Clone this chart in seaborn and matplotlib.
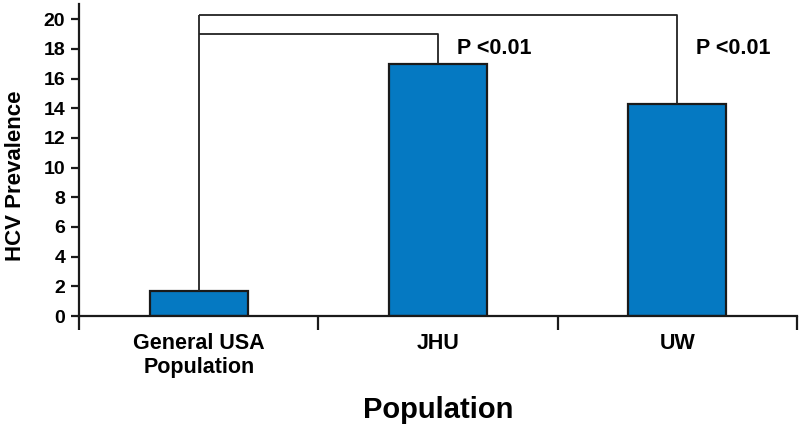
import matplotlib
matplotlib.use("Agg")
import matplotlib.pyplot as plt
import seaborn as sns
import pandas as pd

# data
groups = ["General USA\nPopulation", "JHU", "UW"]
prevalence = [1.7, 17.0, 14.3]
p_labels = ["P <0.01", "P <0.01"]

sns.set_style("ticks")
plt.rcParams['font.family'] = ['Liberation Sans', 'DejaVu Sans']
plt.rcParams['font.weight'] = 'bold'
for k in ['text.color', 'axes.labelcolor', 'xtick.labelcolor', 'ytick.labelcolor']:
    plt.rcParams[k] = 'black'

df = pd.DataFrame({"group": groups, "prev": prevalence})

fig = plt.figure(figsize=(8, 4.26), dpi=100)
ax = fig.add_axes([0.099, 0.258, 0.897, 0.732])

sns.barplot(data=df, x="group", y="prev", ax=ax, color="#0579c2",
            saturation=1, width=0.41, edgecolor="#1a1a1a", linewidth=1.6)

# significance brackets
line_kw = dict(color="#222222", lw=1.3, solid_capstyle="butt")
outer_y, inner_y = 20.3, 19.0
ax.plot([0, 0], [prevalence[0], outer_y], **line_kw)
ax.plot([0, 2, 2], [outer_y, outer_y, prevalence[2]], **line_kw)
ax.plot([0, 1, 1], [inner_y, inner_y, prevalence[1]], **line_kw)

for i, lab in zip([1, 2], p_labels):
    ax.text(i + 0.08, 18.05, lab, ha="left", va="center", fontsize=15.5,
            fontweight="bold")

ax.set_ylim(0, 21)
ax.set_xlim(-0.5, 2.5)
ax.set_yticks(range(0, 21, 2))
ax.set_xticks([-0.5, 0.5, 1.5, 2.5], minor=True)
ax.tick_params(axis="x", which="major", length=0, pad=12, labelsize=15.5)
ax.tick_params(axis="x", which="minor", length=10, width=1.6, color="#1a1a1a")
ax.tick_params(axis="y", length=6, width=1.6, pad=4, labelsize=14, color="#1a1a1a")
for lab in ax.get_xticklabels() + ax.get_yticklabels():
    lab.set_fontweight("bold")

for side in ["top", "right"]:
    ax.spines[side].set_visible(False)
for side in ["left", "bottom"]:
    ax.spines[side].set_linewidth(1.6)
    ax.spines[side].set_color("#1a1a1a")

ax.set_xlabel("Population", fontsize=21, fontweight="bold", labelpad=13)
ax.set_ylabel("HCV Prevalence", fontsize=16, fontweight="bold")
ax.yaxis.set_label_coords(-0.074, 0.449)

fig.savefig("out.png", dpi=100)
